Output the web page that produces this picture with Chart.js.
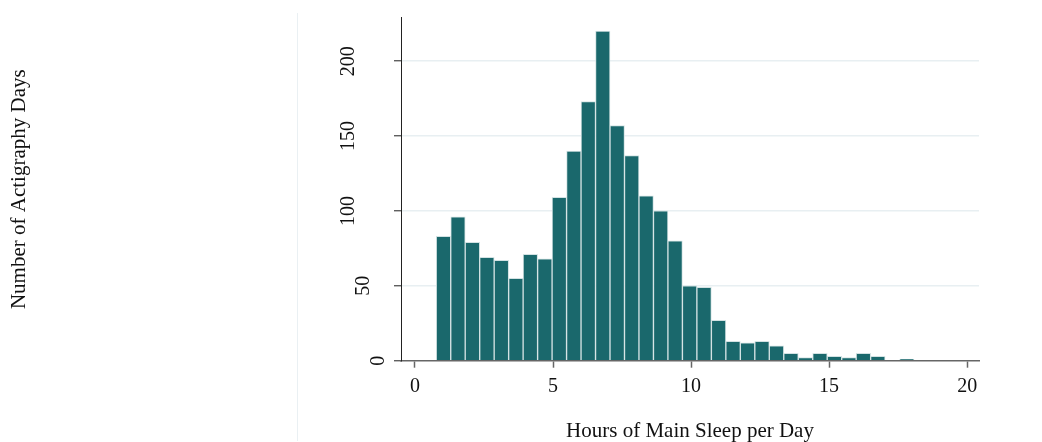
<!DOCTYPE html>
<html>
<head>
<meta charset="utf-8">
<title>Hours of Main Sleep per Day</title>
<script src="https://cdn.jsdelivr.net/npm/chart.js@4.4.1/dist/chart.umd.min.js"></script>
<style>
  html, body { margin: 0; padding: 0; background: #fff; }
  #chart { display: block; }
</style>
</head>
<body>
<canvas id="chart" width="1042" height="442"></canvas>
<script>
// bin centres (hours), bins are ~0.52 h wide
var binCenters = [1.032, 1.557, 2.081, 2.606, 3.130, 3.655, 4.179, 4.704, 5.228, 5.753,
                  6.277, 6.802, 7.326, 7.851, 8.375, 8.900, 9.424, 9.949, 10.473, 10.998,
                  11.522, 12.047, 12.571, 13.096, 13.620, 14.145, 14.669, 15.194, 15.718, 16.243,
                  16.767, 17.292, 17.816];
// number of actigraphy days in each bin
var dayCounts = [83, 96, 79, 69, 67, 55, 71, 68, 109, 140,
                 173, 220, 157, 137, 110, 100, 80, 50, 49, 27,
                 13, 12, 13, 10, 5, 2, 5, 3, 2, 5,
                 3, 0, 1];
var xTicks = [0, 5, 10, 15, 20];
var yTicks = [0, 50, 100, 150, 200];
var xTitle = 'Hours of Main Sleep per Day';
var yTitle = 'Number of Actigraphy Days';

var FONT = '"Liberation Serif", "Times New Roman", serif';

var points = [];
for (var i = 0; i < binCenters.length; i++) {
  points.push({ x: binCenters[i], y: dayCounts[i] });
}

// draws the texts (ticks and titles) the Stata way, rotated y labels
var textPlugin = {
  id: 'stataText',
  beforeDraw: function (chart) {
    var ctx = chart.ctx;
    ctx.save();
    // faint frame line on the left of the plot region
    ctx.strokeStyle = '#eaf0f3';
    ctx.lineWidth = 1;
    ctx.beginPath();
    ctx.moveTo(297.5, 13);
    ctx.lineTo(297.5, 441);
    ctx.stroke();
    ctx.restore();
  },
  afterDraw: function (chart) {
    var ctx = chart.ctx;
    var xs = chart.scales.x, ys = chart.scales.y;
    var area = chart.chartArea;
    ctx.save();
    ctx.fillStyle = '#111';

    // x tick labels
    ctx.font = '20px ' + FONT;
    ctx.textAlign = 'center';
    ctx.textBaseline = 'alphabetic';
    xTicks.forEach(function (v) {
      ctx.fillText(String(v), xs.getPixelForValue(v), 392);
    });

    // y tick labels, rotated
    yTicks.forEach(function (v) {
      var s = String(v);
      var py = ys.getPixelForValue(v);
      var px = 394 - 15 * s.length;
      ctx.save();
      ctx.translate(px, py);
      ctx.rotate(-Math.PI / 2);
      ctx.textAlign = 'center';
      ctx.textBaseline = 'middle';
      ctx.fillText(s, 0, 0);
      ctx.restore();
    });

    // axis titles
    ctx.font = '21px ' + FONT;
    ctx.textAlign = 'center';
    ctx.textBaseline = 'alphabetic';
    ctx.fillText(xTitle, (area.left + area.right) / 2, 437);

    ctx.save();
    ctx.translate(25, (area.top + area.bottom) / 2);
    ctx.rotate(-Math.PI / 2);
    ctx.fillText(yTitle, 0, 0);
    ctx.restore();

    ctx.restore();
  }
};

var chart = new Chart(document.getElementById('chart'), {
  type: 'bar',
  data: {
    datasets: [{
      label: 'Actigraphy days',
      data: points,
      backgroundColor: '#1a686c',
      borderColor: '#d3e2e3',
      borderWidth: 1,
      borderSkipped: 'bottom',
      barPercentage: 1,
      categoryPercentage: 1
    }]
  },
  options: {
    responsive: false,
    animation: false,
    layout: { padding: { left: 0, right: 63, top: 17.7, bottom: 0 } },
    plugins: {
      legend: { display: false },
      tooltip: { enabled: false }
    },
    scales: {
      x: {
        type: 'linear',
        offset: false,
        min: -0.507,
        max: 20.43,
        afterBuildTicks: function (scale) {
          scale.ticks = xTicks.map(function (v) { return { value: v }; });
        },
        afterFit: function (scale) { scale.height = 442 - 360.7; },
        ticks: { display: false },
        grid: {
          offset: false,
          drawOnChartArea: false,
          drawTicks: true,
          tickLength: 7,
          tickColor: '#666',
          tickWidth: 1.5
        },
        border: { color: '#666', width: 1.5 }
      },
      y: {
        min: 0,
        max: 229,
        afterBuildTicks: function (scale) {
          scale.ticks = yTicks.map(function (v) { return { value: v }; });
        },
        afterFit: function (scale) { scale.width = 401; },
        ticks: { display: false },
        grid: {
          color: function (c) { return c.tick && c.tick.value === 0 ? 'rgba(0,0,0,0)' : '#e8eff2'; },
          lineWidth: 1.5,
          drawTicks: true,
          tickLength: 7,
          tickColor: '#444',
          tickWidth: 1.2
        },
        border: { color: '#222', width: 1 }
      }
    }
  },
  plugins: [textPlugin]
});
</script>
</body>
</html>
